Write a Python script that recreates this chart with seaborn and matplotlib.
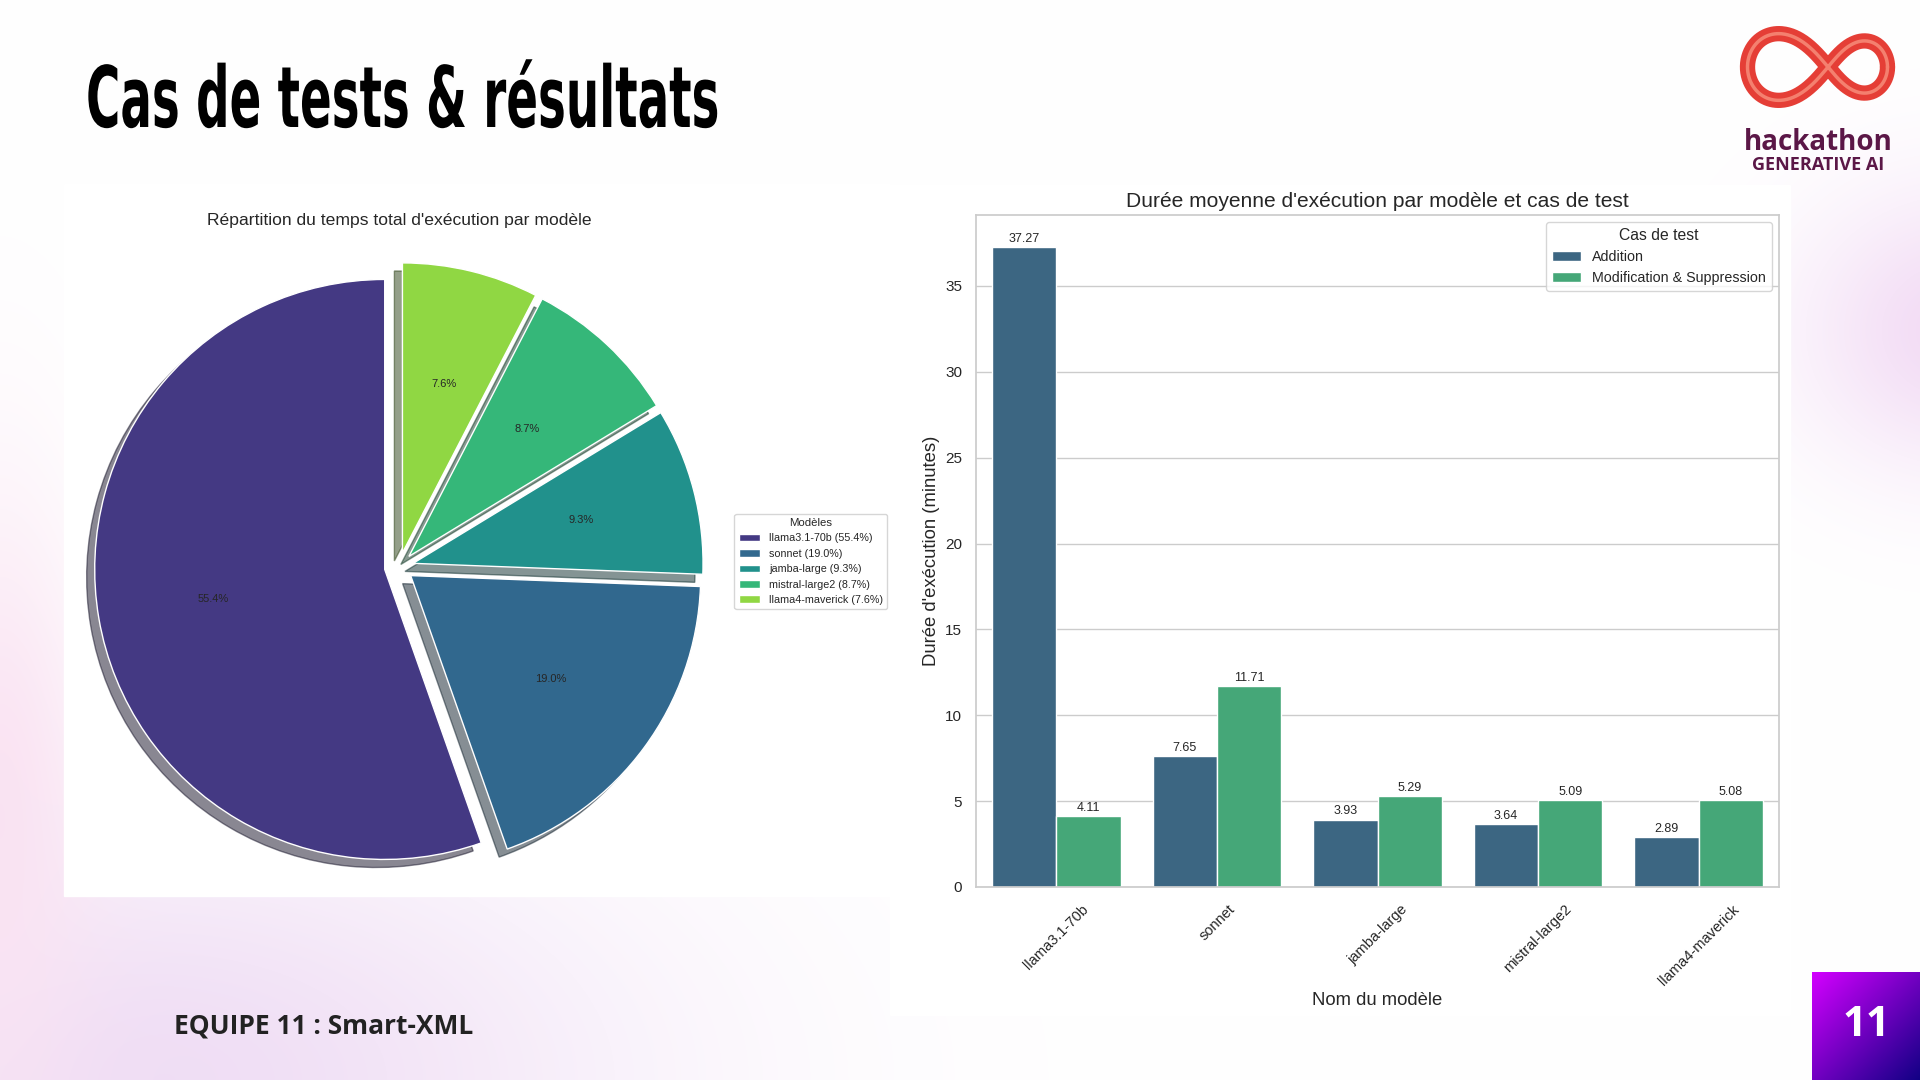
import numpy as np
import pandas as pd
import matplotlib
matplotlib.use("Agg")
import matplotlib.pyplot as plt
import seaborn as sns
from matplotlib.patches import Rectangle
from matplotlib.patheffects import AbstractPathEffect
from matplotlib.transforms import Affine2D

# -------------------------
# Data
# -------------------------
pie_models = ["llama3.1-70b", "sonnet", "jamba-large", "mistral-large2", "llama4-maverick"]
pie_share = [55.4, 19.0, 9.3, 8.7, 7.6]

bar_models = ["llama3.1-70b", "sonnet", "jamba-large", "mistral-large2", "llama4-maverick"]
cas_labels = ["Addition", "Modification & Suppression"]
addition = [37.27, 7.65, 3.93, 3.64, 2.89]
modif_suppr = [4.11, 11.71, 5.29, 5.09, 5.08]

slide_title = "Cas de tests & résultats"
team_text = "EQUIPE 11 : Smart-XML"
page_num = "11"


# squeeze text horizontally (slide title font is very condensed)
class Squeeze(AbstractPathEffect):
    def __init__(self, sx, x0):
        super().__init__()
        self.sx = sx
        self.x0 = x0

    def draw_path(self, renderer, gc, tpath, affine, rgbFace=None):
        t = affine + Affine2D().translate(-self.x0, 0).scale(self.sx, 1).translate(self.x0, 0)
        renderer.draw_path(gc, tpath, t, rgbFace)


sns.set_theme(style="whitegrid")
plt.rcParams["font.family"] = ["Liberation Sans", "DejaVu Sans"]

W, H = 1920, 1080
fig = plt.figure(figsize=(19.2, 10.8), dpi=100)

# -------------------------
# Slide background
# -------------------------
bg = fig.add_axes([0, 0, 1, 1], zorder=-10)
yy, xx = np.mgrid[0:H, 0:W]
img = np.ones((H, W, 3))
glows = [
    ((150, 1080), (480, 260), (0.94, 0.87, 0.96)),
    ((0, 820), (90, 320), (0.98, 0.89, 0.95)),
    ((1960, 330), (160, 140), (0.95, 0.86, 0.96)),
]
for (cx, cy), (sx, sy), tint in glows:
    g = np.exp(-(((xx - cx) / sx) ** 2 + ((yy - cy) / sy) ** 2))[..., None]
    img = img * (1 - g) + np.array(tint) * g
bg.imshow(img, extent=[0, W, H, 0], aspect="auto")
bg.add_patch(Rectangle((64, 184), 826, 712, color="white", zorder=2))
bg.add_patch(Rectangle((890, 185), 900, 830, color="white", zorder=2))

# logo (infinity)
t = np.linspace(0, 2 * np.pi, 400)
a = 70
k = 1 - 0.15 * np.cos(t)
lx = 1828 + k * a * np.cos(t) / (1 + np.sin(t) ** 2)
ly = 67 - 1.2 * k * a * np.sin(t) * np.cos(t) / (1 + np.sin(t) ** 2)
bg.plot(lx, ly, color="#e53e36", lw=11, solid_capstyle="round", zorder=3)
bg.plot(lx, ly, color="#f4806f", lw=2.5, zorder=4)
bg.set_xlim(0, W)
bg.set_ylim(H, 0)
bg.axis("off")

fig.text(1818 / W, 1 - 142 / H, "hackathon", ha="center", va="center",
         fontsize=20, fontweight="bold", family="Open Sans", color="#5b1747")
fig.text(1818 / W, 1 - 165 / H, "GENERATIVE AI", ha="center", va="center",
         fontsize=13, fontweight="bold", family="Open Sans", color="#5b1747")

title = fig.text(86 / W, 1 - 127 / H, slide_title, ha="left", va="baseline",
                 fontsize=61, fontweight="bold", family="DejaVu Sans", color="black")

fig.text(174 / W, 1 - 1026 / H, team_text, ha="left", va="center",
         fontsize=19, fontweight="bold", family="Open Sans", color="#222222")

# page number box
ax3 = fig.add_axes([1812 / W, 0, 108 / W, 108 / H])
gx, gy = np.meshgrid(np.linspace(0, 1, 100), np.linspace(0, 1, 100))
tt = ((gx + gy) / 2)[..., None]
grad = np.array([0.83, 0.0, 1.0]) * (1 - tt) + np.array([0.07, 0.0, 0.52]) * tt
ax3.imshow(grad, extent=[0, 1, 1, 0], aspect="auto")
ax3.set_xlim(0, 1)
ax3.set_ylim(1, 0)
ax3.axis("off")
ax3.text(0.5, 0.5, page_num, ha="center", va="center", fontsize=30,
         fontweight="bold", family="Open Sans", color="white")

# -------------------------
# Pie chart
# -------------------------
ax1 = fig.add_axes([36.5 / W, 1 - 929.5 / H, 725 / W, 725 / H])
colors = sns.color_palette("viridis", len(pie_models))
wedges, texts, autotexts = ax1.pie(
    pie_share, explode=[0.05] * len(pie_share), colors=colors,
    autopct="%1.1f%%", startangle=90, shadow=True,
    wedgeprops=dict(edgecolor="white", linewidth=1),
    textprops=dict(fontsize=8, color=".15"),
)
ax1.set_xlim(-1.25, 1.25)
ax1.set_ylim(-1.25, 1.25)
ax1.set_aspect("equal")

fig.text(399 / W, 1 - 221 / H, "Répartition du temps total d'exécution par modèle",
         ha="center", va="center", fontsize=12.6, color=".15")

fig.legend(wedges, [f"{m} ({s:.1f}%)" for m, s in zip(pie_models, pie_share)],
           title="Modèles", loc="center left", bbox_to_anchor=(729 / W, 1 - 561.5 / H),
           fontsize=7.75, title_fontsize=8.2, frameon=True)

# -------------------------
# Bar chart
# -------------------------
df = pd.DataFrame({
    "modele": bar_models * 2,
    "cas": [cas_labels[0]] * len(bar_models) + [cas_labels[1]] * len(bar_models),
    "duree": addition + modif_suppr,
})

ax2 = fig.add_axes([976 / W, 1 - 887 / H, (1779 - 976) / W, (887 - 215) / H])
sns.barplot(data=df, x="modele", y="duree", hue="cas", palette="viridis", ax=ax2)
for c in ax2.containers:
    ax2.bar_label(c, fmt="%.2f", fontsize=9, padding=1.5, color=".15")

ax2.set_title("Durée moyenne d'exécution par modèle et cas de test", fontsize=15.1, color=".15")
ax2.set_xlabel("Nom du modèle", fontsize=13.3, labelpad=3)
ax2.set_ylabel("Durée d'exécution (minutes)", fontsize=13.3)
ax2.tick_params(axis="x", rotation=45, labelsize=10.5, pad=5)
ax2.tick_params(axis="y", labelsize=11, pad=4)
ax2.legend(title="Cas de test", loc="upper right", fontsize=10.3, title_fontsize=11.3)

# fit slide title width
r = fig.canvas.get_renderer()
bb = title.get_window_extent(r)
title.set_path_effects([Squeeze((720 - 86) / bb.width, bb.x0)])

fig.savefig("out.png", dpi=100)
